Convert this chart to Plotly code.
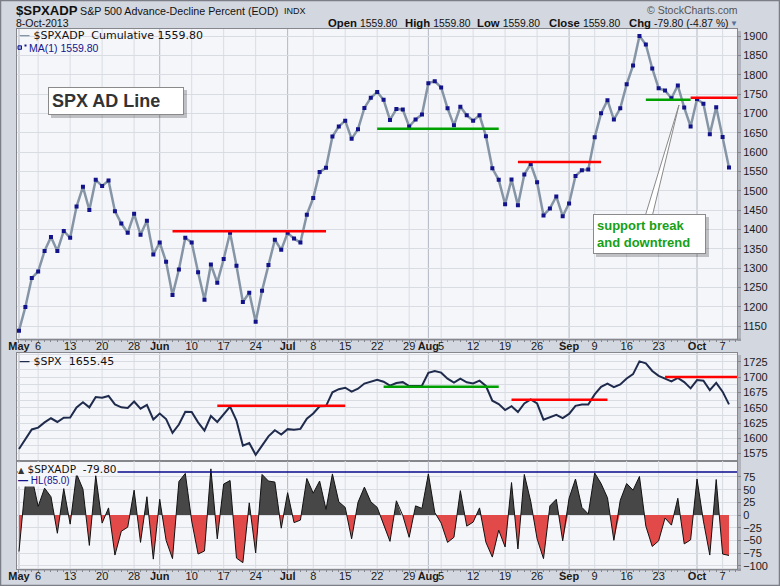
import plotly.graph_objects as go
import pandas as pd

# ---------------- data ----------------
holidays = ['2013-05-27', '2013-07-04', '2013-09-02']
dates = [d.strftime('%Y-%m-%d') for d in pd.bdate_range('2013-05-01', '2013-10-08')
         if d.strftime('%Y-%m-%d') not in holidays]

# $SPXADP cumulative (AD line)
ad_line = [1138, 1199, 1274, 1291, 1344, 1380, 1344, 1396, 1378, 1459,
           1510, 1450, 1528, 1512, 1526, 1447, 1415, 1391, 1440, 1386,
           1422, 1335, 1366, 1316, 1230, 1296, 1378, 1366, 1289, 1218,
           1309, 1262, 1323, 1391, 1306, 1212, 1236, 1161, 1241, 1308,
           1373, 1347, 1391, 1376, 1366, 1438, 1481, 1548, 1559, 1640,
           1666, 1681, 1634, 1659, 1714, 1740, 1755, 1735, 1683, 1711,
           1710, 1666, 1684, 1697, 1778, 1783, 1767, 1713, 1669, 1717,
           1695, 1681, 1695, 1641, 1558, 1528, 1465, 1529, 1462, 1542,
           1569, 1522, 1436, 1454, 1485, 1434, 1467, 1538, 1553, 1555,
           1638, 1700, 1734, 1684, 1713, 1775, 1824, 1900, 1878, 1816,
           1765, 1759, 1739, 1772, 1715, 1666, 1737, 1725, 1646, 1716,
           1639, 1559.80]

# $SPX close
spx = [1582.70, 1597.59, 1614.42, 1617.50, 1625.96, 1632.69, 1626.67, 1633.70, 1633.77, 1650.34,
       1658.78, 1650.47, 1667.47, 1666.29, 1669.16, 1655.35, 1650.51, 1649.60, 1660.06, 1648.36,
       1654.41, 1630.74, 1640.42, 1631.38, 1608.90, 1622.56, 1643.38, 1642.81, 1626.13, 1612.52,
       1636.36, 1626.73, 1639.04, 1651.81, 1628.93, 1588.19, 1592.43, 1573.09, 1588.03, 1603.26,
       1613.20, 1606.28, 1614.96, 1614.08, 1615.41, 1631.89, 1640.46, 1652.32, 1652.62, 1675.02,
       1680.19, 1682.50, 1676.26, 1680.91, 1689.37, 1692.09, 1695.53, 1692.39, 1685.94, 1690.25,
       1691.65, 1685.33, 1685.96, 1685.73, 1706.87, 1709.67, 1707.14, 1697.37, 1690.91, 1697.48,
       1691.42, 1689.47, 1694.16, 1685.39, 1661.32, 1655.83, 1646.06, 1652.35, 1642.80, 1656.96,
       1663.50, 1656.78, 1630.48, 1634.96, 1638.17, 1632.97, 1639.77, 1653.08, 1655.08, 1655.17,
       1671.71, 1683.99, 1689.13, 1683.42, 1687.99, 1697.60, 1704.76, 1725.52, 1722.34, 1709.91,
       1701.84, 1697.42, 1692.77, 1698.67, 1691.75, 1681.55, 1695.00, 1693.87, 1678.66, 1690.50,
       1676.12, 1655.45]

# $SPXADP daily
adp = [-72, 61, 75, 17, 53, 36, -36, 52, -18, 81,
       51, -60, 78, -16, 14, -79, -32, -24, 49, -54,
       36, -87, 31, -50, -86, 66, 82, -12, -77, -71,
       91, -47, 61, 68, -85, -94, 24, -75, 80, 67,
       65, -26, 44, -15, -10, 72, 43, 67, 11, 81,
       26, 15, -47, 25, 55, 26, 15, -20, -52, 28,
       -1, -44, 18, 13, 81, 5, -16, -54, -44, 48,
       -22, -14, 14, -54, -83, -30, -63, 64, -67, 80,
       27, -47, -86, 18, 31, -51, 33, 71, 15, 2,
       83, 62, 34, -50, 29, 62, 49, 76, -22, -62,
       -51, -6, -20, 33, -57, -49, 71, -12, -79, 70,
       -77, -79.80]
hl_level = 85.0

tick_dates = ['2013-05-01', '2013-05-06', '2013-05-13', '2013-05-20', '2013-05-28',
              '2013-06-03', '2013-06-10', '2013-06-17', '2013-06-24',
              '2013-07-01', '2013-07-08', '2013-07-15', '2013-07-22', '2013-07-29',
              '2013-08-01', '2013-08-05', '2013-08-12', '2013-08-19', '2013-08-26',
              '2013-09-03', '2013-09-09', '2013-09-16', '2013-09-23',
              '2013-10-01', '2013-10-07']
tick_labels = ['May', '6', '13', '20', '28', 'Jun', '10', '17', '24', 'Jul', '8', '15', '22', '29',
               'Aug', '5', '12', '19', '26', 'Sep', '9', '16', '23', 'Oct', '7']

# support / resistance lines: (start, end or None=right edge, level, colour)
top_lines = [('2013-06-05', '2013-07-10', 1395, 'red'),
             ('2013-07-22', '2013-08-16', 1660, 'green'),
             ('2013-08-21', '2013-09-10', 1574, 'red'),
             ('2013-09-19', '2013-09-30', 1735, 'green'),
             ('2013-09-30', None, 1740, 'red')]
mid_lines = [('2013-06-14', '2013-07-15', 1653, 'red'),
             ('2013-07-23', '2013-08-16', 1684, 'green'),
             ('2013-08-20', '2013-09-11', 1663, 'red'),
             ('2013-09-24', None, 1700, 'red')]

# ---------------- geometry / style ----------------
W, H = 780, 586
L, R, T, B = 17, 737, 29, 569


def px(x):
    return (x - L) / (R - L)


def py(y):
    return (B - y) / (B - T)


idx = {d: i for i, d in enumerate(dates)}
xs = list(range(len(dates)))
xr = [-0.31, len(dates) - 1 + 1.25]
yr_top = [1117.7, 1918.1]
yr_mid = [1563.0, 1739.2]
yr_bot = [-106.5, 106.5]

PAPER = '#d3d7df'
PLOT = '#f5f6fa'
GRID = '#d9dce3'
MONTH = '#b3b7c1'
FRAME = '#85878c'
RED = '#ff0000'
GREEN = '#00a000'
COLORS = {'red': RED, 'green': GREEN}

top_dom = [py(338.5), 1.0]
mid_dom = [py(461), py(353)]
bot_dom = [0.0, py(461)]
bot_mid = (bot_dom[0] + bot_dom[1]) / 2

tickvals = [idx[d] for d in tick_dates]
ticktext = ['<b>%s</b>' % t if t.isalpha() else t for t in tick_labels]
is_month = [t.isalpha() for t in tick_labels]

TF = dict(family='Liberation Sans, Arial', size=11, color='#1a1a1a')

fig = go.Figure()
fig.add_trace(go.Scatter(x=xs, y=ad_line, mode='lines+markers', xaxis='x', yaxis='y',
                         line=dict(color='#8595a6', width=2.5),
                         marker=dict(symbol='square', size=4, color='#12128a', line=dict(width=0)),
                         hoverinfo='skip'))
fig.add_trace(go.Scatter(x=xs, y=spx, mode='lines', xaxis='x2', yaxis='y2',
                         line=dict(color='#1f2b4c', width=2), hoverinfo='skip'))
fig.add_trace(go.Scatter(x=[xs[0]], y=[0], mode='markers', xaxis='x3', yaxis='y3',
                         marker=dict(opacity=0), hoverinfo='skip'))
fig.add_trace(go.Scatter(x=xs, y=adp, mode='lines', xaxis='x4', yaxis='y4', fill='tozeroy',
                         fillcolor='#474747', line=dict(width=0), hoverinfo='skip'))
fig.add_trace(go.Scatter(x=xs, y=adp, mode='lines', xaxis='x4', yaxis='y5', fill='tozeroy',
                         fillcolor='#e24949', line=dict(width=0), hoverinfo='skip'))
fig.add_trace(go.Scatter(x=xs, y=adp, mode='lines', xaxis='x4', yaxis='y6',
                         line=dict(color='#111111', width=1), hoverinfo='skip'))

xcommon = dict(range=xr, tickvals=tickvals, ticktext=ticktext, tickangle=0, showgrid=False,
               zeroline=False, showline=True, mirror=True, automargin=False,
               linecolor=FRAME, linewidth=1, tickfont=TF, ticks='outside', ticklen=3,
               tickcolor=FRAME, ticklabelstandoff=-6,
               minor=dict(ticks='outside', ticklen=2, dtick=1, tick0=0, tickcolor=FRAME, showgrid=False))

ycommon = dict(side='right', showgrid=True, gridcolor=GRID, zeroline=False, showline=True,
               mirror=True, linecolor=FRAME, linewidth=1, ticks='outside', ticklen=3,
               tickcolor=FRAME, tickfont=TF, automargin=False)

x2conf = dict(xcommon)
x2conf.update(ticks='', showticklabels=False, minor=dict(ticks='', showgrid=False))

layout = dict(
    width=W, height=H, autosize=False,
    margin=dict(l=L, r=W - R, t=T, b=H - B, pad=0, autoexpand=False),
    paper_bgcolor=PAPER, plot_bgcolor='rgba(0,0,0,0)', showlegend=False,
    xaxis=dict(domain=[0, 1], anchor='y', **xcommon),
    xaxis2=dict(domain=[0, 1], anchor='y2', matches='x', **x2conf),
    xaxis3=dict(domain=[0, 1], anchor='y3', matches='x', **xcommon),
    xaxis4=dict(domain=[0, 1], anchor='y6', matches='x', range=xr, visible=False, automargin=False),
    yaxis=dict(domain=top_dom, anchor='x', range=yr_top,
               tickvals=list(range(1150, 1901, 50)), **ycommon),
    yaxis2=dict(domain=mid_dom, anchor='x2', range=yr_mid,
                tickvals=list(range(1575, 1726, 25)),
                minor=dict(dtick=12.5, tick0=1575, showgrid=True, gridcolor=GRID, ticks=''), **ycommon),
    yaxis3=dict(domain=bot_dom, anchor='x3', range=yr_bot,
                tickvals=list(range(-100, 76, 25)), **ycommon),
    yaxis4=dict(domain=[bot_mid, bot_dom[1]], anchor='x4', range=[0, yr_bot[1]], visible=False,
                automargin=False),
    yaxis5=dict(domain=[bot_dom[0], bot_mid], anchor='x4', range=[yr_bot[0], 0], visible=False,
                automargin=False),
    yaxis6=dict(domain=bot_dom, anchor='x4', range=yr_bot, visible=False, automargin=False),
)

shapes = []
# panel backgrounds
for dom in (top_dom, mid_dom, bot_dom):
    shapes.append(dict(type='rect', xref='paper', yref='paper', x0=0, x1=1, y0=dom[0], y1=dom[1],
                       fillcolor=PLOT, line=dict(width=0), layer='below'))
# panel shadows
for (y0, y1) in ((31, 341), (355, 571)):
    shapes.append(dict(type='rect', xref='paper', yref='paper', x0=px(737.5), x1=px(741),
                       y0=py(y1), y1=py(y0), fillcolor='rgba(60,60,70,0.22)', line=dict(width=0),
                       layer='below'))
    shapes.append(dict(type='rect', xref='paper', yref='paper', x0=px(20), x1=px(741),
                       y0=py(y1), y1=py(y1 - 2.5), fillcolor='rgba(60,60,70,0.22)', line=dict(width=0),
                       layer='below'))
# vertical gridlines (weekly light, month starts darker)
for xa, ya, yr in (('x', 'y', yr_top), ('x2', 'y2', yr_mid), ('x3', 'y3', yr_bot)):
    for tv, m in sorted(zip(tickvals, is_month), key=lambda p: p[1]):
        shapes.append(dict(type='line', xref=xa, yref=ya, x0=tv, x1=tv, y0=yr[0], y1=yr[1],
                           line=dict(color=MONTH if m else GRID, width=1), layer='below'))
# support/resistance
for lines, xa, ya in ((top_lines, 'x', 'y'), (mid_lines, 'x2', 'y2')):
    for s, e, lvl, c in lines:
        x1 = idx[e] if e else xr[1]
        shapes.append(dict(type='line', xref=xa, yref=ya, x0=idx[s], x1=x1, y0=lvl, y1=lvl,
                           line=dict(color=COLORS[c], width=2.5), layer='above'))
# HL line
shapes.append(dict(type='line', xref='x3', yref='y3', x0=xr[0], x1=xr[1], y0=hl_level, y1=hl_level,
                   line=dict(color='#0a0a8c', width=1.5), layer='above'))
# MA legend markers
shapes.append(dict(type='rect', xref='paper', yref='paper', x0=px(18), x1=px(21.5), y0=py(49.3),
                   y1=py(45.8), fillcolor='#9aa6d8', line=dict(color='#14148c', width=1), layer='above'))
shapes.append(dict(type='rect', xref='paper', yref='paper', x0=px(24.5), x1=px(26.5), y0=py(46.5),
                   y1=py(44.5), fillcolor='#14148c', line=dict(width=0), layer='above'))
# box shadows
shapes.append(dict(type='rect', xref='paper', yref='paper', x0=px(51), x1=px(187), y0=py(118),
                   y1=py(90), fillcolor='rgba(0,0,0,0.22)', line=dict(width=0), layer='above'))
shapes.append(dict(type='rect', xref='paper', yref='paper', x0=px(596), x1=px(709), y0=py(257),
                   y1=py(217), fillcolor='rgba(0,0,0,0.22)', line=dict(width=0), layer='above'))
# callout wedge
wedge = 'M %f,%f L %f,%f L %f,%f Z' % (px(645.5), py(215), px(679), py(105), px(652.5), py(215))
shapes.append(dict(type='path', xref='paper', yref='paper', path=wedge, fillcolor='white',
                   line=dict(color='#8a8a8a', width=1), layer='above'))
# outer border
shapes.append(dict(type='rect', xref='paper', yref='paper', x0=px(0.5), x1=px(W - 0.5), y0=py(H - 0.5),
                   y1=py(0.5), line=dict(color='#7b7e86', width=1.5), layer='above'))

last = ad_line[-1]
chg = adp[-1]
pct = chg / ad_line[-2] * 100


def ann(x, y, text, size=11, color='#111111', family='Liberation Sans, Arial', xanchor='left',
        yanchor='middle', **kw):
    return dict(x=px(x), y=py(y), xref='paper', yref='paper', text=text, showarrow=False,
                font=dict(size=size, color=color, family=family), xanchor=xanchor, yanchor=yanchor, **kw)


def hdr(label, value):
    return '<b>%s</b> <span style="font-size:10.3px">%s</span>' % (label, value)


MONO = 'DejaVu Sans, Verdana'
annotations = [
    ann(14, 10.5, '<b>$SPXADP</b>', size=13.2),
    ann(78, 11.5, 'S&amp;P 500 Advance-Decline Percent (EOD)', size=10.7),
    ann(282, 11.5, 'INDX', size=9),
    ann(14, 23, '8-Oct-2013', size=10.5),
    ann(326, 23, hdr('Open', '%.2f' % last), size=11.3),
    ann(403, 23, hdr('High', '%.2f' % last), size=11.3),
    ann(475, 23, hdr('Low', '%.2f' % last), size=11.3),
    ann(547, 23, hdr('Close', '%.2f' % last), size=11.3),
    ann(627, 23, hdr('Chg', '%.2f (%.2f %%)' % (chg, pct)), size=11.3),
    ann(728, 23.5, '▼', size=8, color='#55739c'),
    ann(645, 10, '© StockCharts.com', size=10.5, color='#555555'),
    ann(17, 36, '<span style="color:#8595a6"><b>—</b></span> $SPXADP&nbsp;&nbsp;Cumulative %.2f' % last,
        size=11, family=MONO),
    ann(27, 48, 'MA(1) %.2f' % last, size=10.5, color='#14148c'),
    ann(17, 361, '<span style="color:#1f2b4c"><b>—</b></span> $SPX&nbsp;&nbsp;%.2f' % spx[-1],
        size=11, family=MONO),
    ann(17, 468.5, '<span style="font-size:8px;color:#333">▲</span> $SPXADP&nbsp;&nbsp;%.2f' % chg,
        size=10.5, family=MONO, bgcolor=PLOT, borderpad=0),
    ann(17, 480, '<b>—</b> HL(%.1f)' % hl_level, size=10, color='#14148c', bgcolor=PLOT, borderpad=0),
    dict(x=px(116), y=py(101), xref='paper', yref='paper', text='<b>SPX AD Line</b>', showarrow=False,
         font=dict(size=18, color='#333333', family='Liberation Sans, Arial'), xanchor='center',
         yanchor='middle', align='left', bgcolor='white', bordercolor='#8a8a8a', borderwidth=1,
         borderpad=3, width=128, height=20),
    dict(x=px(649.5), y=py(234), xref='paper', yref='paper',
         text='<b>support break<br>and downtrend</b>', showarrow=False,
         font=dict(size=13, color='#16a016', family='Liberation Sans, Arial'), xanchor='center',
         yanchor='middle', align='left', bgcolor='white', bordercolor='#8a8a8a', borderwidth=1,
         borderpad=3, width=105, height=32),
]

layout['shapes'] = shapes
layout['annotations'] = annotations
fig.update_layout(**layout)
fig.write_html('out.html')
